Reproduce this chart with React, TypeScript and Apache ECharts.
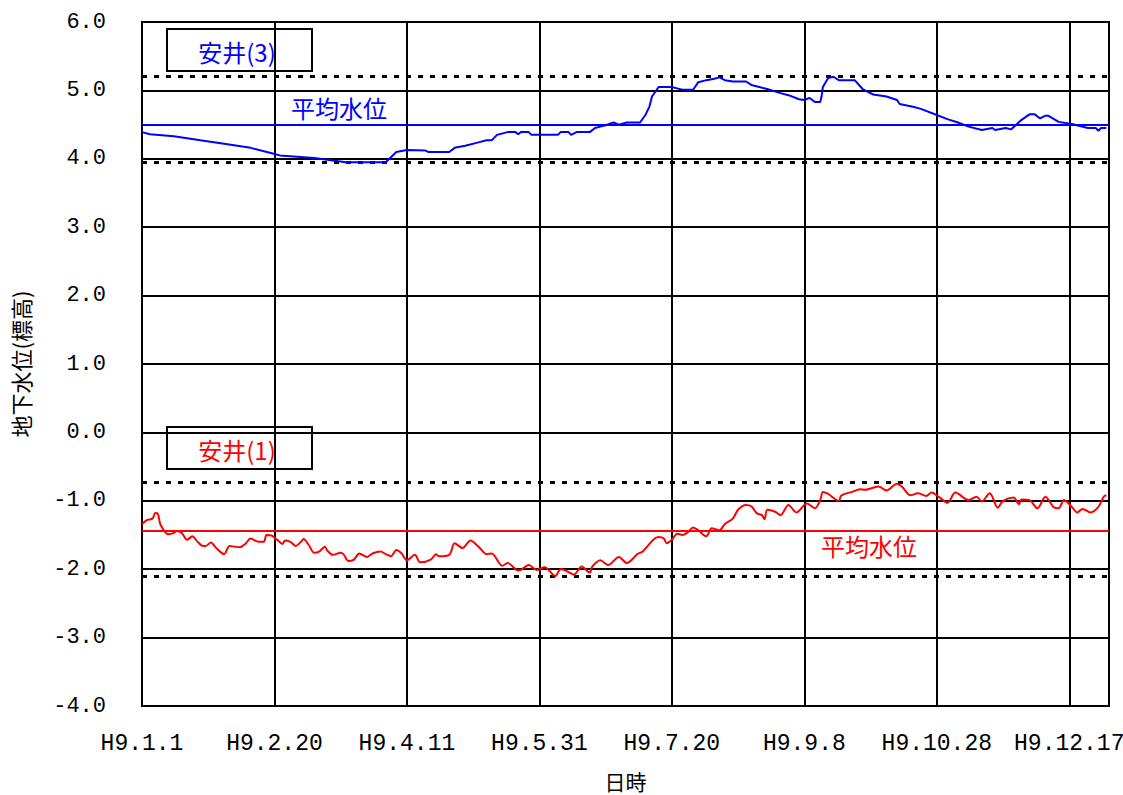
import React, { useEffect, useRef } from "react";
import * as echarts from "echarts";

// day of year (0 = H9.1.1) and groundwater level (m)
const yasui3Days = [0, 3, 12, 22, 31, 41, 49, 52, 65, 77, 92, 96, 100, 107, 108, 116, 118, 122, 127, 130, 132, 134, 138, 141, 142, 143, 146, 147, 157, 158, 161, 162, 164, 169, 171, 173, 175, 178, 180, 183, 188, 190, 191.5, 192.5, 195, 200, 202, 204, 208, 210, 213, 216, 218, 220, 223, 228, 230, 233, 236, 241, 244, 248, 250, 252, 254, 256, 256.5, 257, 259, 261, 263, 269, 272, 276, 281, 285, 286, 291, 294, 300, 304, 308, 312, 317, 321, 322, 326, 328, 332, 335, 337, 339, 341, 342, 346, 351, 354, 357, 360, 361, 362, 364];
const yasui3Values = [4.39, 4.36, 4.33, 4.27, 4.22, 4.16, 4.08, 4.05, 4.01, 3.95, 3.95, 4.10, 4.13, 4.12, 4.10, 4.10, 4.16, 4.19, 4.24, 4.27, 4.27, 4.35, 4.39, 4.39, 4.36, 4.39, 4.39, 4.35, 4.35, 4.39, 4.39, 4.35, 4.39, 4.39, 4.45, 4.47, 4.49, 4.53, 4.50, 4.53, 4.53, 4.64, 4.76, 4.91, 5.05, 5.05, 5.03, 5.01, 5.01, 5.12, 5.15, 5.17, 5.19, 5.15, 5.13, 5.13, 5.08, 5.05, 5.02, 4.96, 4.93, 4.87, 4.86, 4.89, 4.83, 4.83, 4.91, 5.05, 5.18, 5.20, 5.15, 5.15, 5.02, 4.94, 4.91, 4.86, 4.80, 4.76, 4.73, 4.64, 4.58, 4.53, 4.47, 4.42, 4.45, 4.42, 4.45, 4.43, 4.57, 4.65, 4.65, 4.59, 4.63, 4.63, 4.54, 4.51, 4.48, 4.45, 4.45, 4.41, 4.45, 4.45];

const yasui1Days = [0, 2, 4, 5, 6, 7, 10, 12, 13, 15, 17, 19, 21, 23, 24, 26, 28, 31, 33, 35, 37, 39, 41, 44, 46, 47, 49, 51, 53, 54, 56, 58, 60, 61, 63, 65, 67, 69, 70, 72, 75, 76, 78, 80, 82, 85, 87, 90, 92, 94, 96, 98, 100, 103, 105, 109, 111, 112, 116, 118, 121, 124, 127, 130, 132, 136, 138, 142, 143, 146, 149, 152, 156, 158, 160, 163, 166, 169, 170, 173, 176, 180, 183, 187, 189, 193, 195, 197, 198, 200, 202, 204, 206, 208, 210, 213, 215, 218, 220, 223, 225, 228, 230, 232, 234, 235, 236, 239, 241, 244, 247, 251, 254, 256, 257, 259, 263, 264, 268, 271, 273, 275, 278, 281, 285, 287, 290, 293, 296, 298, 301, 304, 307, 312, 315, 317, 320, 323, 325, 329, 331, 332, 335, 338, 341, 344, 346, 348, 351, 353, 355, 358, 361, 363, 364];
const yasui1Values = [-1.34, -1.28, -1.26, -1.18, -1.19, -1.35, -1.49, -1.47, -1.44, -1.47, -1.57, -1.52, -1.60, -1.66, -1.66, -1.61, -1.69, -1.78, -1.66, -1.67, -1.68, -1.63, -1.55, -1.60, -1.60, -1.50, -1.51, -1.57, -1.63, -1.58, -1.60, -1.66, -1.60, -1.56, -1.65, -1.76, -1.74, -1.67, -1.73, -1.79, -1.76, -1.78, -1.88, -1.86, -1.77, -1.82, -1.77, -1.74, -1.78, -1.81, -1.72, -1.77, -1.87, -1.79, -1.90, -1.86, -1.78, -1.81, -1.79, -1.62, -1.69, -1.58, -1.67, -1.78, -1.77, -1.95, -1.91, -2.02, -2.01, -1.94, -2.01, -1.97, -2.10, -2.00, -2.02, -2.08, -1.96, -2.05, -1.96, -1.87, -1.94, -1.82, -1.91, -1.78, -1.74, -1.57, -1.53, -1.55, -1.62, -1.57, -1.48, -1.50, -1.46, -1.39, -1.43, -1.52, -1.40, -1.43, -1.34, -1.26, -1.13, -1.06, -1.08, -1.18, -1.21, -1.27, -1.13, -1.16, -1.21, -1.06, -1.17, -1.04, -1.11, -0.99, -0.87, -0.90, -1.00, -0.92, -0.87, -0.83, -0.84, -0.82, -0.79, -0.85, -0.75, -0.80, -0.92, -0.89, -0.93, -0.88, -0.95, -1.03, -0.88, -0.99, -0.94, -1.01, -0.89, -1.10, -1.00, -0.95, -1.05, -0.98, -0.99, -1.11, -0.94, -1.09, -1.11, -0.99, -1.09, -1.17, -1.12, -1.17, -1.09, -0.94, -0.92];

const yasui3Mean = 4.5;
const yasui3Bounds = [5.21, 3.95];
const yasui1Mean = -1.44;
const yasui1Bounds = [-0.73, -2.1];

const tickDays = [0, 50, 100, 150, 200, 250, 300, 350];
const tickLabels = ["H9.1.1", "H9.2.20", "H9.4.11", "H9.5.31", "H9.7.20", "H9.9.8", "H9.10.28", "H9.12.17"];

const BLUE = "#0000ff";
const RED = "#ff0000";
const NUM_FONT = "'Liberation Mono', 'DejaVu Sans Mono', monospace";
const CJK_FONT = "'Noto Sans CJK JP', 'Noto Sans', sans-serif";

export default function App() {
  const ref = useRef<HTMLDivElement>(null);
  useEffect(() => {
    document.body.style.margin = "0";
    if (!ref.current) return;
    const chart = echarts.init(ref.current, null, { renderer: "svg" });
    const zip = (d: number[], v: number[]) => d.map((x, i) => [x, v[i]]);
    const dotted = (v: number) => ({
      yAxis: v,
      lineStyle: { color: "#000", width: 3, type: [5, 7] },
    });
    const solid = (v: number, c: string) => ({
      yAxis: v,
      lineStyle: { color: c, width: 2, type: "solid" },
    });
    chart.setOption({
      animation: false,
      backgroundColor: "#fff",
      grid: {
        left: 142,
        top: 22,
        width: 967,
        height: 684,
        outerBoundsMode: "none",
        containLabel: false,
        show: true,
        borderColor: "#000",
        borderWidth: 2,
        backgroundColor: "transparent",
      },
      xAxis: {
        type: "value",
        min: 0,
        max: 365,
        interval: 50,
        name: "日時",
        nameLocation: "middle",
        nameGap: 64,
        nameTextStyle: { fontFamily: CJK_FONT, fontSize: 21, color: "#000" },
        axisLine: { show: true, lineStyle: { color: "#000", width: 2 } },
        axisTick: { show: false },
        splitLine: { show: true, lineStyle: { color: "#000", width: 2 } },
        axisLabel: {
          margin: 26,
          showMaxLabel: false,
          hideOverlap: false,
          fontFamily: NUM_FONT,
          fontSize: 23,
          color: "#000",
          formatter: (v: number) => {
            const i = tickDays.indexOf(v);
            return i >= 0 ? tickLabels[i] : "";
          },
        },
      },
      yAxis: {
        type: "value",
        min: -4,
        max: 6,
        interval: 1,
        name: "地下水位(標高)",
        nameLocation: "middle",
        nameRotate: 90,
        nameGap: 111,
        nameTextStyle: { fontFamily: CJK_FONT, fontSize: 22, color: "#000" },
        axisLine: { show: true, lineStyle: { color: "#000", width: 2 } },
        axisTick: { show: false },
        splitLine: { show: true, lineStyle: { color: "#000", width: 2 } },
        axisLabel: {
          margin: 36,
          fontFamily: NUM_FONT,
          fontSize: 22,
          color: "#000",
          formatter: (v: number) => v.toFixed(1),
        },
      },
      series: [
        {
          name: "安井(3)",
          type: "line",
          data: zip(yasui3Days, yasui3Values),
          showSymbol: false,
          lineStyle: { color: BLUE, width: 2 },
          itemStyle: { color: BLUE },
          z: 5,
          markLine: {
            silent: true,
            symbol: ["none", "none"],
            label: { show: false },
            data: [solid(yasui3Mean, BLUE), dotted(yasui3Bounds[0]), dotted(yasui3Bounds[1])],
          },
        },
        {
          name: "安井(1)",
          type: "line",
          data: zip(yasui1Days, yasui1Values),
          showSymbol: false,
          smooth: 0.3,
          lineStyle: { color: RED, width: 2 },
          itemStyle: { color: RED },
          z: 5,
          markLine: {
            silent: true,
            symbol: ["none", "none"],
            label: { show: false },
            data: [solid(yasui1Mean, RED), dotted(yasui1Bounds[0]), dotted(yasui1Bounds[1])],
          },
        },
      ],
      graphic: [
        {
          type: "group",
          z: 100,
          children: [
            {
              type: "rect",
              shape: { x: 167, y: 29, width: 145, height: 42 },
              style: { fill: "#fff", stroke: "#000", lineWidth: 2 },
            },
            {
              type: "text",
              x: 237,
              y: 51,
              style: {
                text: "安井(3)",
                fill: BLUE,
                font: `24px ${CJK_FONT}`,
                textAlign: "center",
                textVerticalAlign: "middle",
              },
            },
            {
              type: "rect",
              shape: { x: 167, y: 427, width: 145, height: 42 },
              style: { fill: "#fff", stroke: "#000", lineWidth: 2 },
            },
            {
              type: "text",
              x: 237,
              y: 449,
              style: {
                text: "安井(1)",
                fill: RED,
                font: `24px ${CJK_FONT}`,
                textAlign: "center",
                textVerticalAlign: "middle",
              },
            },
            {
              type: "text",
              x: 339,
              y: 107,
              style: {
                text: "平均水位",
                fill: BLUE,
                font: `24px ${CJK_FONT}`,
                textAlign: "center",
                textVerticalAlign: "middle",
              },
            },
            {
              type: "text",
              x: 869,
              y: 545,
              style: {
                text: "平均水位",
                fill: RED,
                font: `24px ${CJK_FONT}`,
                textAlign: "center",
                textVerticalAlign: "middle",
              },
            },
          ],
        },
      ],
    });
    return () => chart.dispose();
  }, []);
  return <div ref={ref} style={{ width: 1123, height: 795 }} />;
}
